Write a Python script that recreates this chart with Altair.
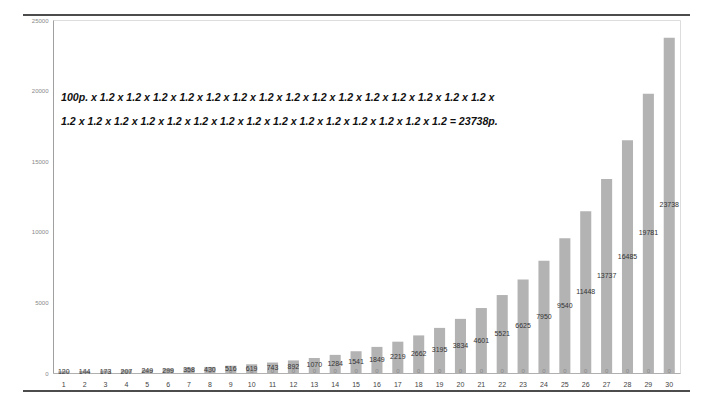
import altair as alt
import pandas as pd

periods = list(range(1, 31))
values = [120, 144, 173, 207, 249, 299, 358, 430, 516, 619,
          743, 892, 1070, 1284, 1541, 1849, 2219, 2662, 3195, 3834,
          4601, 5521, 6625, 7950, 9540, 11448, 13737, 16485, 19781, 23738]
zeros = [0] * 30
y_ticks = [0, 5000, 10000, 15000, 20000, 25000]
line1 = "100p. x " + " x ".join(["1.2"] * 15) + " x"
line2 = " x ".join(["1.2"] * 15) + " = 23738p."

df = pd.DataFrame({"period": periods, "value": values, "zero": zeros})
df["half"] = df["value"] / 2

W, H = 627, 353

x = alt.X("period:O", title=None,
          scale=alt.Scale(paddingInner=0.47, paddingOuter=0.25),
          axis=alt.Axis(labelAngle=0, labelFontSize=7, labelColor="#444",
                        labelFont="Liberation Sans", ticks=False,
                        domainColor="#b0b0b0", labelPadding=7))
y_scale = alt.Scale(domain=[0, 25000], nice=False)

base = alt.Chart(df)
bars = base.mark_bar(color="#b3b3b3").encode(
    x=x,
    y=alt.Y("value:Q", scale=y_scale, title=None,
            axis=alt.Axis(values=y_ticks, grid=False, ticks=False, format="d",
                          labelFontSize=6, labelColor="#888",
                          labelFont="Liberation Sans", labelPadding=5,
                          domainColor="#a0a0a0")),
)
vlabels = base.mark_text(fontSize=7, color="#333", font="Liberation Sans").encode(
    x="period:O", y=alt.Y("half:Q", scale=y_scale), text=alt.Text("value:Q", format="d"))
zlabels = base.mark_text(fontSize=6, color="#888", font="Liberation Sans", dy=-2).encode(
    x="period:O", y=alt.Y("zero:Q", scale=y_scale), text=alt.Text("zero:Q", format="d"))

def ann(t, ypix):
    return alt.Chart(pd.DataFrame({"t": [t]})).mark_text(
        align="left", baseline="middle", fontSize=10.6, fontWeight="bold",
        fontStyle="italic", font="Liberation Sans", color="#111"
    ).encode(x=alt.value(8), y=alt.value(ypix), text="t:N")

ann1 = ann(line1, 78)
ann2 = ann(line2, 102)

one = pd.DataFrame({"a": [0]})
frame_top = alt.Chart(one).mark_rule(color="#111", strokeWidth=1.5).encode(
    x=alt.value(-30), x2=alt.value(644), y=alt.value(-5))
frame_bot = alt.Chart(one).mark_rule(color="#111", strokeWidth=1.5).encode(
    x=alt.value(-30), x2=alt.value(644), y=alt.value(18 + H))
frame_right = alt.Chart(one).mark_rule(color="#111", strokeWidth=1.5).encode(
    x=alt.value(644), y=alt.value(-5), y2=alt.value(18 + H))

chart = alt.layer(bars, vlabels, zlabels, ann1, ann2, frame_top, frame_bot, frame_right).properties(
    width=W, height=H,
    autosize=alt.AutoSizeParams(type="none"),
    padding={"left": 45, "top": 12, "right": 10, "bottom": 20},
).configure_view(stroke=None).configure(background="white")

chart.save("out.html", embed_options={"renderer": "svg", "actions": False})
